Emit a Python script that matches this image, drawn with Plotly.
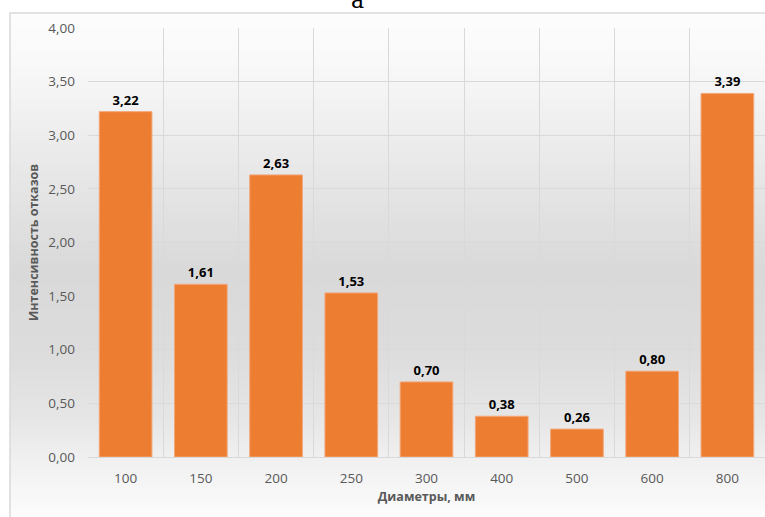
import plotly.graph_objects as go

diameters = ["100", "150", "200", "250", "300", "400", "500", "600", "800"]
intensity = [3.22, 1.61, 2.63, 1.53, 0.70, 0.38, 0.26, 0.80, 3.39]
y_ticks = [0, 0.5, 1, 1.5, 2, 2.5, 3, 3.5, 4]

W, H = 765, 517
L, R, T, B = 88, 0, 28, 60
pw, ph = W - L - R, H - T - B


def px_x(x):
    return (x - L) / pw


def px_y(y):
    return (H - B - y) / ph


# grey gradient in the chart area (light top, darker middle, light bottom)
stops = [(13, 253), (60, 249), (150, 235), (270, 217), (350, 220), (420, 230), (460, 240), (517, 252)]


def grey(y):
    for (y0, g0), (y1, g1) in zip(stops[:-1], stops[1:]):
        if y0 <= y <= y1:
            return g0 + (g1 - g0) * (y - y0) / (y1 - y0)
    return stops[-1][1]


shapes = []
step = 4
for y in range(13, 517, step):
    g = int(round(grey(y + step / 2)))
    shapes.append(dict(type="rect", xref="paper", yref="paper", layer="below",
                       x0=px_x(10), x1=px_x(770), y0=px_y(y + step), y1=px_y(y),
                       fillcolor=f"rgb({g},{g},{g})", line=dict(width=0)))
shapes.append(dict(type="rect", xref="paper", yref="paper", layer="below",
                   x0=px_x(10), x1=px_x(770), y0=px_y(520), y1=px_y(13),
                   fillcolor="rgba(0,0,0,0)", line=dict(color="#d9d9d9", width=1.5)))

fig = go.Figure()
fig.add_trace(go.Bar(
    x=diameters, y=intensity, width=0.7,
    marker=dict(color="#ED7D31", line=dict(color="#f3a678", width=1)),
    texttemplate="%{y:.2f}", textposition="outside", cliponaxis=False,
    textfont=dict(family="Noto Sans", size=13, color="#000000", weight="bold"),
))

fig.update_layout(
    width=W, height=H,
    margin=dict(l=L, r=R, t=T, b=B),
    paper_bgcolor="white", plot_bgcolor="rgba(0,0,0,0)",
    separators=", ",
    showlegend=False,
    shapes=shapes,
    font=dict(family="Open Sans", color="#595959"),
)
fig.update_xaxes(
    type="category", tickson="boundaries", showgrid=True, gridcolor="#d9d9d9", gridwidth=1,
    showline=True, linecolor="#d9d9d9", ticks="", ticklabelstandoff=9,
    tickfont=dict(size=13.5, color="#595959"),
    title=dict(text="Диаметры, мм", font=dict(size=12.5, color="#595959", weight="bold"), standoff=6),
)
fig.update_yaxes(
    range=[0, 4], tickvals=y_ticks, tickformat=".2f", showgrid=True, gridcolor="#d9d9d9",
    zeroline=False, ticks="", ticklabelstandoff=12, tickfont=dict(size=13.5, color="#595959"),
)

fig.add_annotation(
    text="Интенсивность отказов", textangle=-90, showarrow=False,
    xref="paper", yref="paper", x=px_x(33), y=px_y(242), xanchor="center", yanchor="middle",
    font=dict(size=12.5, color="#595959", weight="bold"),
)
fig.add_annotation(
    text="a", showarrow=False, xref="paper", yref="paper",
    x=px_x(357), y=px_y(15), xanchor="center", yanchor="bottom",
    font=dict(family="DejaVu Serif", size=22, color="#000000"),
)

fig.write_html("out.html", config={"displayModeBar": False},
               post_script="document.body.style.margin='0';")
